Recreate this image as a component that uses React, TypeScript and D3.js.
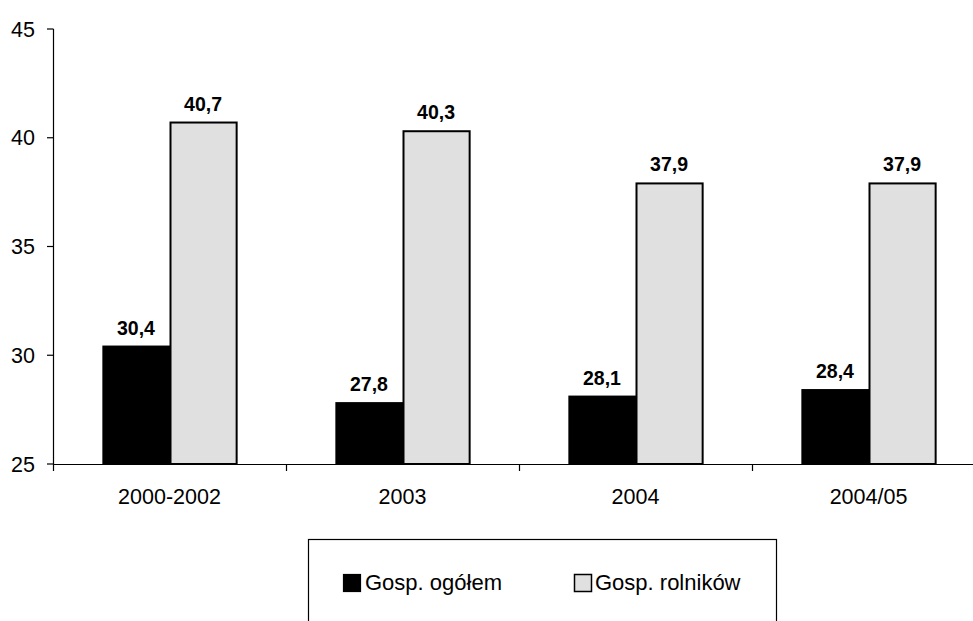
import React from "react";
import * as d3 from "d3";

const categories = ["2000-2002", "2003", "2004", "2004/05"];
const seriesNames = ["Gosp. ogółem", "Gosp. rolników"];
const ogolem = [30.4, 27.8, 28.1, 28.4];
const rolnikow = [40.7, 40.3, 37.9, 37.9];
const yTicks = [25, 30, 35, 40, 45];
const seriesFill = ["#000000", "#e0e0e0"];

const W = 973;
const H = 621;
const FONT = "'Liberation Sans', Arial, sans-serif";
const fmt = (v: number) => v.toFixed(1).replace(".", ",");

export default function App() {
  const x0 = d3.scaleBand<string>().domain(categories).range([53, 985]).paddingInner(0).paddingOuter(0);
  const x1 = d3.scaleBand<string>().domain(seriesNames).range([0, x0.bandwidth()]).paddingInner(0).paddingOuter(0.735);
  const y = d3.scaleLinear().domain([25, 45]).range([464, 29]);
  const values = [ogolem, rolnikow];

  return (
    <svg width={W} height={H} style={{ position: "absolute", left: 0, top: 0, display: "block", background: "#fff" }} fontFamily={FONT}>
      {categories.map((c, i) =>
        seriesNames.map((s, si) => {
          const v = values[si][i];
          const bx = (x0(c) as number) + (x1(s) as number);
          const bw = x1.bandwidth();
          const top = y(v);
          return (
            <g key={c + s}>
              <rect x={bx + 1} y={top} width={bw - 1} height={y(25) - top} fill={seriesFill[si]} stroke="#000" strokeWidth={2} />
              <text x={bx + bw / 2} y={top - 12} textAnchor="middle" fontSize={19.5} fontWeight="bold" fill="#000">
                {fmt(v)}
              </text>
            </g>
          );
        })
      )}
      <line x1={53.5} x2={53.5} y1={29} y2={464} stroke="#000" strokeWidth={1.2} />
      {yTicks.map((t) => (
        <g key={t}>
          <line x1={47} x2={53.5} y1={y(t)} y2={y(t)} stroke="#000" strokeWidth={1.2} />
          <text x={35} y={y(t)} dy="0.35em" textAnchor="end" fontSize={21.5} fill="#000">
            {t}
          </text>
        </g>
      ))}
      <line x1={53} x2={W} y1={464.5} y2={464.5} stroke="#000" strokeWidth={1.2} />
      {categories.map((c) => (
        <line key={"t" + c} x1={(x0(c) as number) + 0.5} x2={(x0(c) as number) + 0.5} y1={464} y2={471} stroke="#000" strokeWidth={1.2} />
      ))}
      {categories.map((c) => (
        <text key={"l" + c} x={(x0(c) as number) + x0.bandwidth() / 2} y={504} textAnchor="middle" fontSize={21.5} fill="#000">
          {c}
        </text>
      ))}
      <rect x={308.5} y={539.5} width={468} height={120} fill="#fff" stroke="#000" strokeWidth={1.2} />
      <rect x={343.5} y={574.5} width={17} height={17} fill={seriesFill[0]} stroke="#000" strokeWidth={1.2} />
      <text x={365} y={590} fontSize={22} fill="#000">{seriesNames[0]}</text>
      <rect x={574.5} y={574.5} width={17} height={17} fill={seriesFill[1]} stroke="#000" strokeWidth={1.5} />
      <text x={595} y={590} fontSize={22} fill="#000">{seriesNames[1]}</text>
    </svg>
  );
}
